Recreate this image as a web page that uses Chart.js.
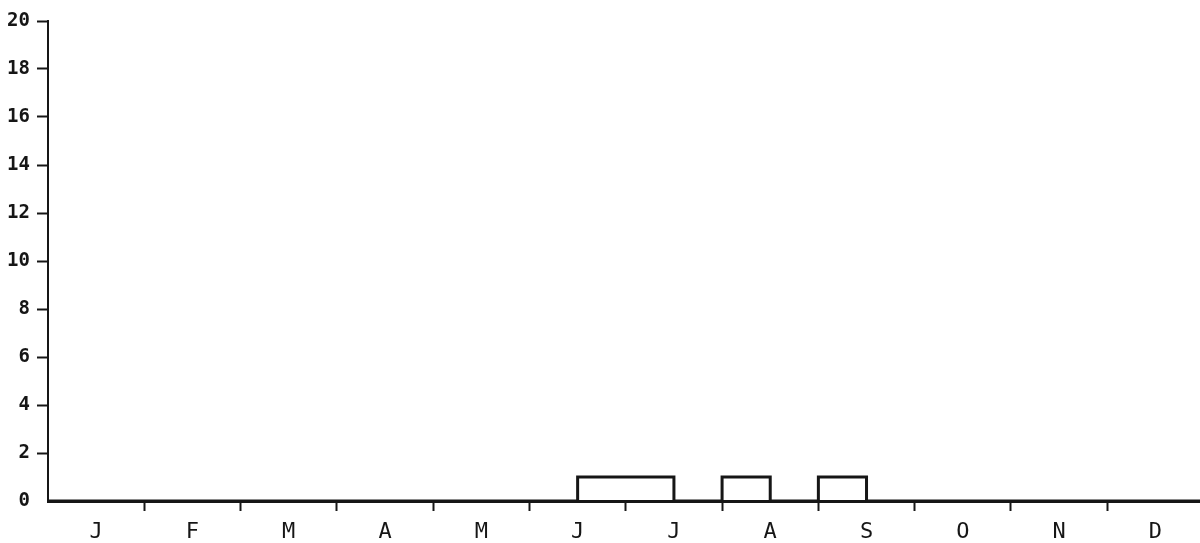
<!DOCTYPE html>
<html>
<head>
<meta charset="utf-8">
<title>Monthly histogram</title>
<script src="https://cdn.jsdelivr.net/npm/chart.js@4"></script>
<style>
    html, body { margin: 0; padding: 0; background: #fff; overflow: hidden; }
    canvas { display: block; }
</style>
</head>
<body>
<canvas id="histChart" width="1200" height="543"></canvas>
<script>
// Month initials shown under the x axis
const monthLabels = ['J', 'F', 'M', 'A', 'M', 'J', 'J', 'A', 'S', 'O', 'N', 'D'];

// Counts per half-month bin (24 bins, Jan first half .. Dec second half)
const binCounts = [
    0, 0,   // J
    0, 0,   // F
    0, 0,   // M
    0, 0,   // A
    0, 0,   // M
    0, 1,   // J
    1, 0,   // J
    1, 0,   // A
    1, 0,   // S
    0, 0,   // O
    0, 0,   // N
    0, 0    // D
];

// Y axis range
const yMin = 0;
const yMax = 20;
const yStep = 2;

const ink = '#161616';

// Step outline points: each bin value holds from its left edge to the next
const stepPoints = binCounts.map((v, i) => ({ x: i / 2, y: v }));
stepPoints.push({ x: monthLabels.length, y: 0 });

// Tick positions on the month axis: boundaries carry marks, centres carry labels
const monthTicks = [];
for (let i = 0; i < monthLabels.length; i++) {
    monthTicks.push(i, i + 0.5);
}

const ctx = document.getElementById('histChart').getContext('2d');
new Chart(ctx, {
    type: 'line',
    data: {
        datasets: [{
            data: stepPoints,
            stepped: true,
            borderColor: ink,
            borderWidth: 3,
            pointRadius: 0,
            fill: false,
            clip: false
        }]
    },
    options: {
        responsive: false,
        animation: false,
        layout: {
            padding: { top: 21, right: 0, bottom: 0, left: 0 }
        },
        plugins: {
            legend: { display: false },
            tooltip: { enabled: false }
        },
        scales: {
            x: {
                type: 'linear',
                min: 0,
                max: 11.963,
                afterBuildTicks: scale => {
                    scale.ticks = monthTicks.map(v => ({ value: v }));
                },
                afterFit: scale => { scale.height = 42; },
                border: { color: ink, width: 3 },
                grid: {
                    drawOnChartArea: false,
                    tickLength: 10,
                    tickWidth: 2,
                    tickColor: c => (Number.isInteger(c.tick.value) && c.tick.value > 0) ? ink : 'rgba(0,0,0,0)'
                },
                ticks: {
                    autoSkip: false,
                    maxRotation: 0,
                    padding: 8,
                    color: ink,
                    font: { family: 'DejaVu Sans Mono', size: 22 },
                    callback: v => Number.isInteger(v) ? '' : monthLabels[Math.floor(v)]
                }
            },
            y: {
                min: yMin,
                max: yMax,
                afterFit: scale => { scale.width = 48; },
                border: { color: ink, width: 2 },
                grid: {
                    drawOnChartArea: false,
                    tickLength: 11,
                    tickWidth: 2,
                    tickColor: c => c.tick.value === 0 ? 'rgba(0,0,0,0)' : ink
                },
                ticks: {
                    stepSize: yStep,
                    padding: 7,
                    color: ink,
                    font: { family: 'DejaVu Sans Mono', size: 19, weight: 'bold' }
                }
            }
        }
    }
});
</script>
</body>
</html>
